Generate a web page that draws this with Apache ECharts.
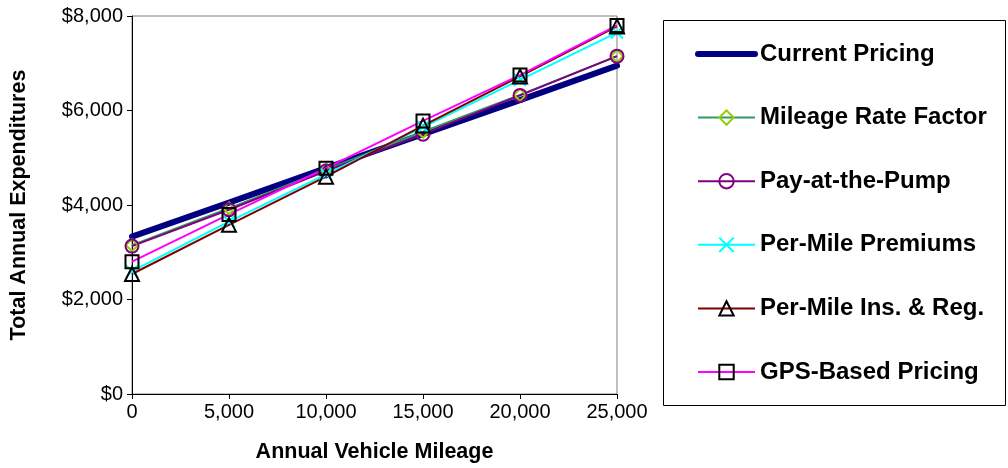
<!DOCTYPE html>
<html>
<head>
<meta charset="utf-8">
<script src="https://cdn.jsdelivr.net/npm/echarts@6/dist/echarts.min.js"></script>
<style>html,body{margin:0;padding:0;background:#fff;}#c{width:1008px;height:468px;}</style>
</head>
<body>
<div id="c"></div>
<script>
var mileage = [0, 5000, 10000, 15000, 20000, 25000];
var currentPricing = [3330, 4050, 4780, 5500, 6220, 6950];
var mileageRateFactor = [3150, 3930, 4750, 5550, 6330, 7150];
var payAtThePump = [3130, 3900, 4720, 5500, 6320, 7150];
var perMilePremiums = [2600, 3650, 4650, 5650, 6650, 7650];
var perMileInsReg = [2540, 3580, 4600, 5680, 6720, 7780];
var gpsBasedPricing = [2800, 3800, 4780, 5780, 6750, 7800];
var seriesNames = ['Current Pricing', 'Mileage Rate Factor', 'Pay-at-the-Pump', 'Per-Mile Premiums', 'Per-Mile Ins. & Reg.', 'GPS-Based Pricing'];

function pairs(vals){ return mileage.map(function(m,i){ return [m, vals[i]]; }); }
function commas(v){ return String(Math.round(v)).replace(/\B(?=(\d{3})+(?!\d))/g, ','); }

var legendData = seriesNames.map(function(n, i){
  if (i === 0) {
    return { name: n, lineStyle: { width: 6, cap: 'round', color: '#000080' } };
  }
  return { name: n };
});

var F = 'Arial, "Liberation Sans", sans-serif';
var chart = echarts.init(document.getElementById('c'));
chart.setOption({
  animation: false,
  backgroundColor: '#fff',
  grid: { left: 132, right: 391, top: 16, bottom: 74, show: true, borderColor: '#808080', borderWidth: 1, backgroundColor: 'transparent' },
  xAxis: {
    type: 'value', min: 0, max: 25000, interval: 5000,
    name: 'Annual Vehicle Mileage', nameLocation: 'middle', nameGap: 47,
    nameTextStyle: { fontFamily: F, fontSize: 21.5, fontWeight: 'bold', color: '#000' },
    axisLine: { show: true, onZero: false, lineStyle: { color: '#000', width: 1 } },
    axisTick: { show: true, length: 5, lineStyle: { color: '#000' } },
    axisLabel: { fontFamily: F, fontSize: 20, color: '#000', margin: 8, formatter: function(v){ return commas(v); } },
    splitLine: { show: false }
  },
  yAxis: {
    type: 'value', min: 0, max: 8000, interval: 2000,
    name: 'Total Annual Expenditures', nameLocation: 'middle', nameGap: 102,
    nameTextStyle: { fontFamily: F, fontSize: 21.5, fontWeight: 'bold', color: '#000' },
    axisLine: { show: true, lineStyle: { color: '#000', width: 1 } },
    axisTick: { show: true, length: 5, lineStyle: { color: '#000' } },
    axisLabel: { fontFamily: F, fontSize: 20, color: '#000', margin: 9, formatter: function(v){ return '$' + commas(v); } },
    splitLine: { show: false }
  },
  legend: {
    orient: 'vertical', left: 695, top: 42, padding: 0,
    itemWidth: 57, itemHeight: 18, itemGap: 39.6,
    lineStyle: { width: 2 },
    textStyle: { fontFamily: F, fontSize: 24, fontWeight: 'bold', color: '#000', lineHeight: 24 },
    data: legendData
  },
  graphic: [{
    type: 'rect', shape: { x: 663.5, y: 20.5, width: 342, height: 385 },
    style: { fill: 'none', stroke: '#000', lineWidth: 1 }, silent: true, z: -1
  }],
  series: [
    { name: seriesNames[0], type: 'line', data: pairs(currentPricing), showSymbol: false, symbol: 'circle', symbolSize: 1,
      lineStyle: { color: '#000080', width: 6, cap: 'round' }, itemStyle: { color: 'rgba(0,0,0,0)', borderColor: 'rgba(0,0,0,0)', borderWidth: 0 } },
    { name: seriesNames[1], type: 'line', data: pairs(mileageRateFactor), symbol: 'diamond', symbolSize: 12,
      lineStyle: { color: '#339966', width: 2 }, itemStyle: { color: 'rgba(0,0,0,0)', borderColor: '#99CC00', borderWidth: 2 } },
    { name: seriesNames[2], type: 'line', data: pairs(payAtThePump), symbol: 'circle', symbolSize: 13,
      lineStyle: { color: '#800080', width: 2 }, itemStyle: { color: 'rgba(0,0,0,0)', borderColor: '#800080', borderWidth: 2 } },
    { name: seriesNames[3], type: 'line', data: pairs(perMilePremiums), symbol: 'path://M0,0L10,10M10,0L0,10', symbolSize: 12,
      lineStyle: { color: '#00FFFF', width: 2 }, itemStyle: { color: 'rgba(0,0,0,0)', borderColor: '#00FFFF', borderWidth: 2 } },
    { name: seriesNames[4], type: 'line', data: pairs(perMileInsReg), symbol: 'triangle', symbolSize: 14,
      lineStyle: { color: '#800000', width: 2 }, itemStyle: { color: 'rgba(0,0,0,0)', borderColor: '#000', borderWidth: 2 } },
    { name: seriesNames[5], type: 'line', data: pairs(gpsBasedPricing), symbol: 'rect', symbolSize: 13,
      lineStyle: { color: '#FF00FF', width: 2 }, itemStyle: { color: 'rgba(0,0,0,0)', borderColor: '#000', borderWidth: 2 } }
  ]
});
</script>
</body>
</html>
